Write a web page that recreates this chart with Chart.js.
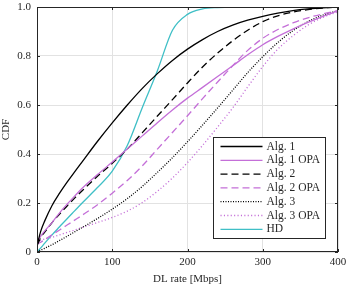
<!DOCTYPE html>
<html lang="en">
<head>
  <meta charset="UTF-8">
  <title>CDF of DL rate</title>
  <script src="https://cdn.jsdelivr.net/npm/chart.js"></script>
  <style>
    html, body { margin: 0; padding: 0; background: #fff; }
    #wrap { width: 346px; height: 286px; }
  </style>
</head>
<body>
  <div id="wrap"><canvas id="chart" width="346" height="286"></canvas></div>

  <script>
    // DL rate grid [Mbps]
    const rates = [0, 2, 5, 10, 20, 30, 40, 50, 60, 80, 100, 120, 140, 160, 180, 200,
                   220, 240, 260, 280, 300, 320, 340, 360, 380, 400];

    const alg1    = [0.02, 0.05, 0.085, 0.125, 0.19, 0.24, 0.285, 0.327, 0.368, 0.45, 0.527, 0.6, 0.668, 0.728, 0.782, 0.828,
                     0.867, 0.9, 0.926, 0.946, 0.962, 0.975, 0.985, 0.992, 0.997, 1.0];
    const alg1Opa = [0.04, 0.05, 0.065, 0.085, 0.12, 0.16, 0.195, 0.228, 0.26, 0.315, 0.367, 0.42, 0.474, 0.528, 0.58, 0.628,
                     0.672, 0.716, 0.76, 0.805, 0.846, 0.88, 0.91, 0.937, 0.962, 0.985];
    const alg2    = [0.03, 0.04, 0.06, 0.08, 0.12, 0.155, 0.188, 0.22, 0.25, 0.308, 0.362, 0.42, 0.487, 0.555, 0.622, 0.69,
                     0.755, 0.812, 0.862, 0.905, 0.94, 0.964, 0.979, 0.989, 0.996, 1.0];
    const alg2Opa = [0.03, 0.035, 0.04, 0.05, 0.07, 0.09, 0.11, 0.13, 0.15, 0.192, 0.24, 0.292, 0.352, 0.42, 0.488, 0.556,
                     0.626, 0.694, 0.76, 0.823, 0.872, 0.908, 0.935, 0.956, 0.972, 0.985];
    const alg3    = [0.0, 0.003, 0.008, 0.015, 0.03, 0.047, 0.064, 0.082, 0.1, 0.136, 0.175, 0.218, 0.268, 0.325, 0.385, 0.45,
                     0.518, 0.588, 0.66, 0.732, 0.797, 0.855, 0.903, 0.94, 0.967, 0.985];
    const alg3Opa = [0.04, 0.044, 0.048, 0.053, 0.06, 0.07, 0.08, 0.09, 0.1, 0.12, 0.141, 0.167, 0.202, 0.248, 0.302, 0.365,
                     0.435, 0.51, 0.588, 0.674, 0.757, 0.828, 0.882, 0.926, 0.958, 0.98];
    const hd      = [0.0, 0.007, 0.017, 0.035, 0.07, 0.103, 0.136, 0.168, 0.2, 0.262, 0.33, 0.435, 0.59, 0.74, 0.905, 0.97,
                     0.992, 0.998, 1.0, 1.0, 1.0, null, null, null, null, null];

    const xTicks = [0, 100, 200, 300, 400];
    const yTicks = [0, 0.2, 0.4, 0.6, 0.8, 1.0];

    const purple = '#c46fd8';
    const cyan = '#3fbfc6';
    const serif = "'Liberation Serif', 'DejaVu Serif', serif";

    function series(label, values, color, dash) {
      return {
        label,
        data: rates.map((r, i) => ({ x: r, y: values[i] })),
        borderColor: color,
        borderWidth: 1.3,
        borderDash: dash,
        pointRadius: 0,
        fill: false,
        cubicInterpolationMode: 'monotone',
        spanGaps: false
      };
    }

    const datasets = [
      series('Alg. 1', alg1, '#000', []),
      series('Alg. 1 OPA', alg1Opa, purple, []),
      series('Alg. 2', alg2, '#000', [7, 4]),
      series('Alg. 2 OPA', alg2Opa, purple, [7, 4]),
      series('Alg. 3', alg3, '#000', [1, 1.5]),
      series('Alg. 3 OPA', alg3Opa, purple, [1.1, 2.3]),
      series('HD', hd, cyan, [])
    ];

    // box, inward ticks and the legend inside the plot
    const frame = {
      id: 'frame',
      afterDraw(chart) {
        const { ctx, chartArea: a, scales } = chart;
        ctx.save();
        ctx.strokeStyle = '#262626';
        ctx.lineWidth = 1;
        ctx.setLineDash([]);
        ctx.strokeRect(a.left + 0.5, a.top + 0.5, a.right - a.left - 1, a.bottom - a.top - 1);
        ctx.beginPath();
        xTicks.forEach(v => {
          const x = Math.round(scales.x.getPixelForValue(v)) + 0.5;
          ctx.moveTo(x, a.bottom); ctx.lineTo(x, a.bottom - 3);
          ctx.moveTo(x, a.top); ctx.lineTo(x, a.top + 3);
        });
        yTicks.forEach(v => {
          const y = Math.round(scales.y.getPixelForValue(v)) + 0.5;
          ctx.moveTo(a.left, y); ctx.lineTo(a.left + 3, y);
          ctx.moveTo(a.right, y); ctx.lineTo(a.right - 3, y);
        });
        ctx.stroke();

        // legend
        const w = 112, h = 101;
        const x0 = Math.round(a.right - 13 - w) + 0.5;
        const y0 = Math.round(a.bottom - 14 - h) + 0.5;
        ctx.fillStyle = '#fff';
        ctx.fillRect(x0, y0, w, h);
        ctx.strokeStyle = '#262626';
        ctx.strokeRect(x0, y0, w, h);
        ctx.font = '11.5px ' + serif;
        ctx.textBaseline = 'middle';
        chart.data.datasets.forEach((ds, i) => {
          const y = y0 + 9 + i * 13.8;
          ctx.strokeStyle = ds.borderColor;
          ctx.lineWidth = ds.borderWidth;
          ctx.setLineDash(ds.borderDash);
          ctx.beginPath();
          ctx.moveTo(x0 + 7, y);
          ctx.lineTo(x0 + 49, y);
          ctx.stroke();
          ctx.fillStyle = '#262626';
          ctx.fillText(ds.label, x0 + 53, y);
        });
        ctx.restore();
      }
    };

    const noPad = s => { s.paddingLeft = 0; s.paddingRight = 0; s.paddingTop = 0; s.paddingBottom = 0; };

    new Chart(document.getElementById('chart'), {
      type: 'line',
      data: { datasets },
      options: {
        responsive: false,
        animation: false,
        layout: { padding: { top: 7, right: 8, left: 0, bottom: 0 } },
        plugins: { legend: { display: false }, tooltip: { enabled: false } },
        scales: {
          x: {
            type: 'linear',
            min: 0, max: 400,
            afterBuildTicks: s => { s.ticks = xTicks.map(v => ({ value: v })); },
            afterFit: s => { s.height = 34; noPad(s); },
            grid: { color: '#e2e2e2', drawTicks: false },
            border: { display: false },
            ticks: { color: '#262626', font: { family: serif, size: 11 }, padding: 4, maxRotation: 0 },
            title: { display: true, text: 'DL rate [Mbps]', color: '#262626',
                     font: { family: serif, size: 11 }, padding: { top: 1, bottom: 0 } }
          },
          y: {
            min: 0, max: 1,
            afterBuildTicks: s => { s.ticks = yTicks.map(v => ({ value: v })); },
            afterFit: s => { s.width = 37; noPad(s); },
            grid: { color: '#e2e2e2', drawTicks: false },
            border: { display: false },
            ticks: { color: '#262626', font: { family: serif, size: 11 }, padding: 6,
                     callback: v => v === 0 ? '0' : v.toFixed(1) },
            title: { display: true, text: 'CDF', color: '#262626',
                     font: { family: serif, size: 11 }, padding: { top: 0, bottom: 0 } }
          }
        }
      },
      plugins: [frame]
    });
  </script>
</body>
</html>
